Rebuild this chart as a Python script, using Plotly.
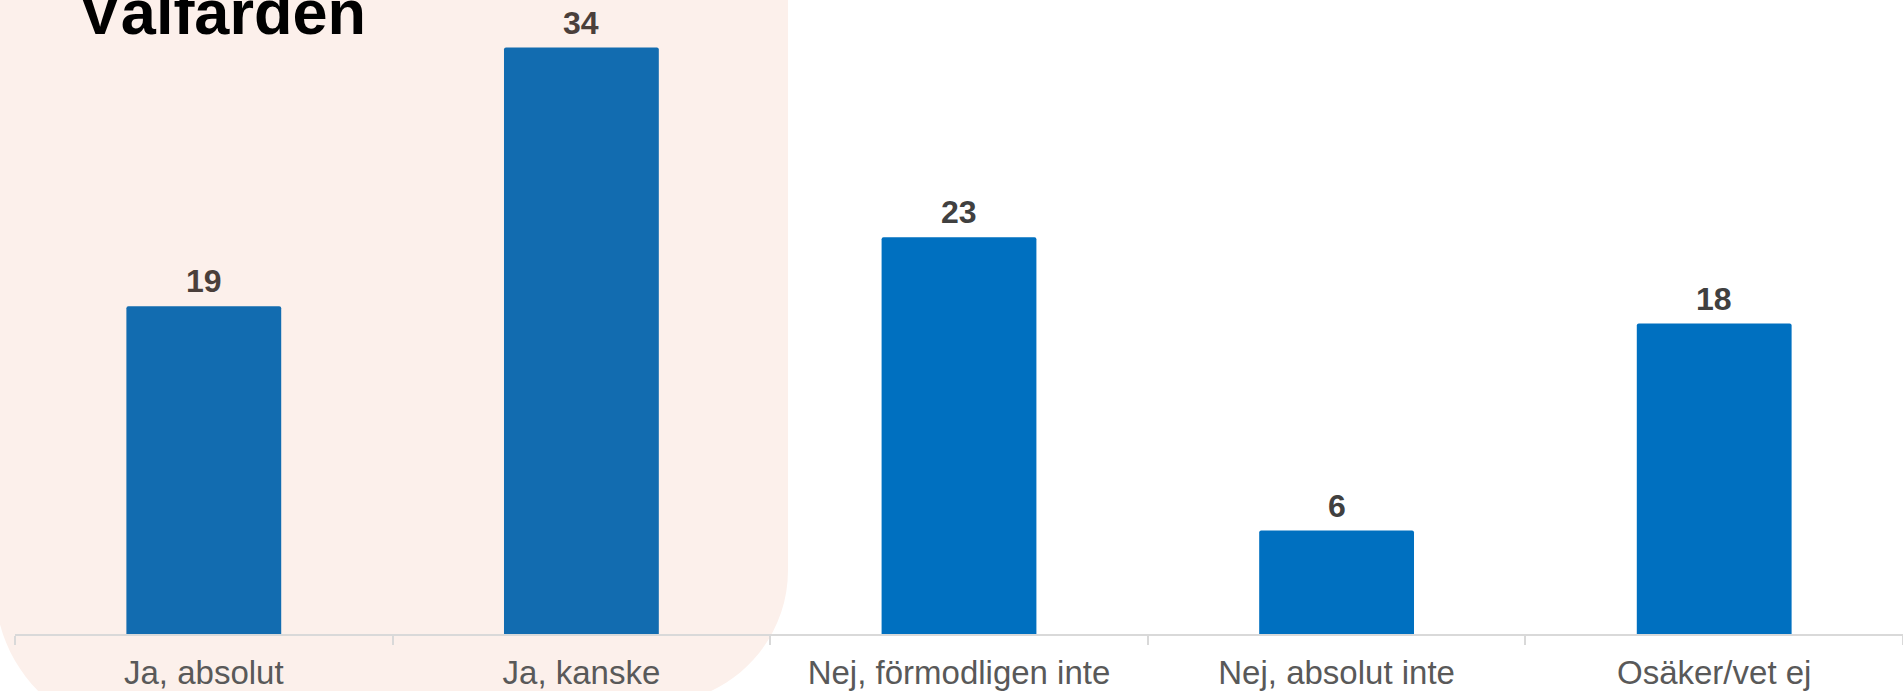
import plotly.graph_objects as go

categories = ["Ja, absolut", "Ja, kanske", "Nej, förmodligen inte", "Nej, absolut inte", "Osäker/vet ej"]
values = [19, 34, 23, 6, 18]
bar_colors = ["#126CB0", "#126CB0", "#0070C0", "#0070C0", "#0070C0"]
label_colors = ["#4A3F3B", "#4A3F3B", "#404040", "#404040", "#404040"]
tick_colors = ["#5B514D", "#5B514D", "#595959", "#595959", "#595959"]
title_text = "Välfärden"

W, H = 1903, 691
ML, MR, MT, MB = 15, 0, 0, 54
PW, PH = W - ML - MR, H - MT - MB
FONT = "Arial, Liberation Sans, sans-serif"


def px2paper(x, y):
    return (x - ML) / PW, (H - MB - y) / PH


def panel_path():
    k = 0.5523
    rc, rr = (654, 573), 134
    lc, lr = (145, 589), 150
    def P(x, y):
        px, py = px2paper(x, y)
        return f"{px:.5f},{py:.5f}"
    d = "M" + P(-5, -60)
    d += " L" + P(788, -60)
    d += " L" + P(788, rc[1])
    d += " C" + P(788, rc[1] + k * rr) + " " + P(rc[0] + k * rr, rc[1] + rr) + " " + P(rc[0], rc[1] + rr)
    d += " L" + P(lc[0], lc[1] + lr)
    d += " C" + P(lc[0] - k * lr, lc[1] + lr) + " " + P(-5, lc[1] + k * lr) + " " + P(-5, lc[1])
    d += " Z"
    return d


fig = go.Figure()
fig.add_trace(go.Bar(
    x=categories, y=values,
    marker=dict(color=bar_colors, line=dict(width=0), cornerradius=2),
    width=0.41,
    hoverinfo="skip",
))

for c, v, col in zip(categories, values, label_colors):
    fig.add_annotation(x=c, y=v, xref="x", yref="y", text=f"<b>{v}</b>",
                       showarrow=False, yanchor="bottom", yshift=5,
                       font=dict(family=FONT, size=32, color=col))

fig.add_annotation(x=px2paper(77, 0)[0], y=px2paper(0, 49)[1], xref="paper", yref="paper",
                   text=f"<b>{title_text}</b>", showarrow=False, xanchor="left", yanchor="bottom",
                   font=dict(family=FONT, size=63, color="#000000"))

fig.add_shape(type="path", path=panel_path(), xref="paper", yref="paper",
              fillcolor="#FCF0EB", line=dict(width=0), layer="below")

ticktext = [f'<span style="color:{tc}">{c}</span>' for c, tc in zip(categories, tick_colors)]

fig.update_layout(
    width=W, height=H,
    margin=dict(l=ML, r=MR, t=MT, b=MB, pad=0),
    paper_bgcolor="#FFFFFF", plot_bgcolor="rgba(0,0,0,0)",
    showlegend=False,
    font=dict(family=FONT),
    xaxis=dict(
        type="category", tickson="boundaries", ticks="outside", ticklen=9,
        tickcolor="#D9D9D9", tickwidth=1.5,
        showline=True, linecolor="#D9D9D9", linewidth=2,
        showgrid=False, zeroline=False,
        tickfont=dict(family=FONT, size=33, color="#595959"),
        ticklabelstandoff=8,
        range=[-0.5, 4.5],
    ),
    yaxis=dict(range=[0, 36.76], visible=False, showgrid=False, zeroline=False),
)

fig.write_html("out.html", config={"displayModeBar": False},
               post_script="document.body.style.margin='0';document.body.style.overflow='hidden';")
